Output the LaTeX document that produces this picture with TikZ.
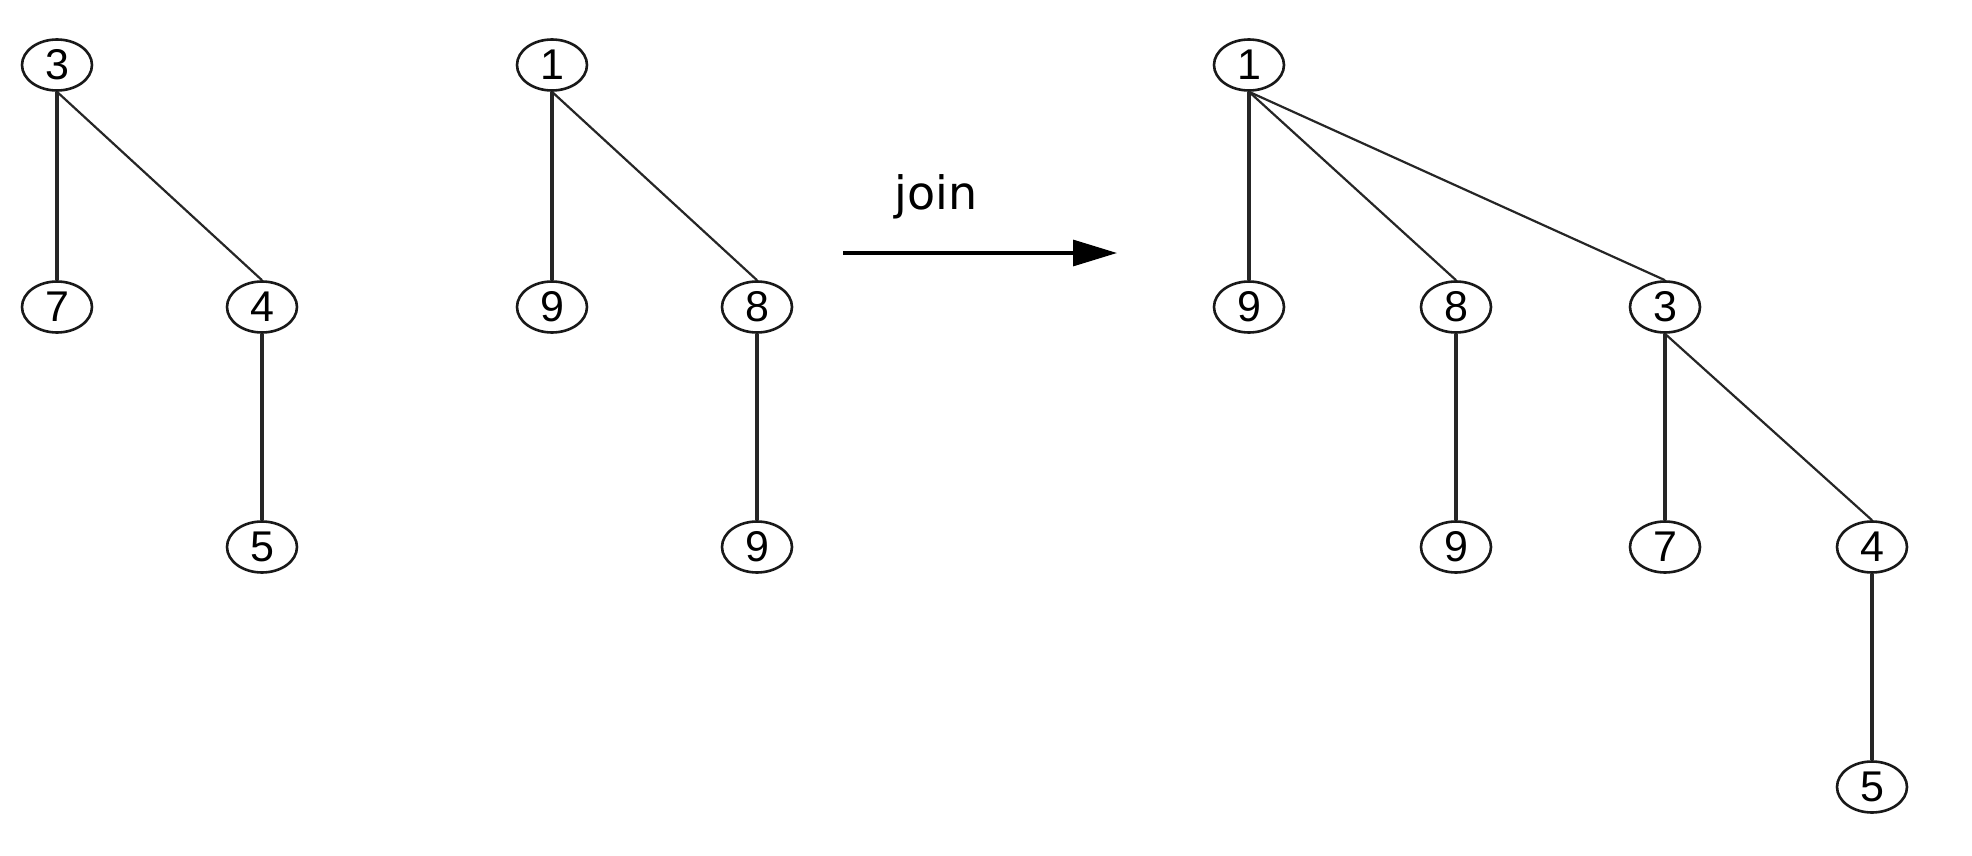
\documentclass[tikz,border=0pt]{standalone}
\usepackage{fontspec}
\setmainfont{Liberation Sans}
\newfontfamily\joinfont{DejaVu Sans}
\usetikzlibrary{shapes.geometric,arrows.meta}
\tikzset{
  tnode/.style={ellipse, draw=black!90, line width=1.3pt, inner sep=0pt,
    minimum width=35pt, minimum height=25.5pt,
    font=\fontsize{21.5pt}{21.5pt}\selectfont},
  vedge/.style={draw=black!85, line width=1.8pt},
  dedge/.style={draw=black!85, line width=1.1pt},
  joinarrow/.style={draw=black, line width=1.6pt, -{Triangle[length=22pt,width=13pt]}}
}
\begin{document}
\begin{tikzpicture}[x=0.5pt,y=-0.5pt]
\useasboundingbox (0,0) rectangle (1972,856);
% tree 1
\node[tnode] (a3) at (57,65) {3};
\node[tnode] (a7) at (57,307) {7};
\node[tnode] (a4) at (262,307) {4};
\node[tnode] (a5) at (262,547) {5};
\draw[vedge] (a3.south) -- (a7.north);
\draw[dedge] (a3.south) -- (a4.north);
\draw[vedge] (a4.south) -- (a5.north);
% tree 2
\node[tnode] (b1) at (552,65) {1};
\node[tnode] (b9) at (552,307) {9};
\node[tnode] (b8) at (757,307) {8};
\node[tnode] (b9b) at (757,547) {9};
\draw[vedge] (b1.south) -- (b9.north);
\draw[dedge] (b1.south) -- (b8.north);
\draw[vedge] (b8.south) -- (b9b.north);
% arrow
\coordinate (arrS) at (843,253);
\coordinate (arrE) at (1117,253);
\draw[joinarrow] (arrS) -- (arrE);
\node[anchor=base, inner sep=0pt, font=\joinfont\fontsize{23pt}{23pt}\selectfont] (joinlbl) at (936,210) {join};
% tree 3
\node[tnode] (c1) at (1249,65) {1};
\node[tnode] (c9) at (1249,307) {9};
\node[tnode] (c8) at (1456,307) {8};
\node[tnode] (c3) at (1665,307) {3};
\node[tnode] (c9b) at (1456,547) {9};
\node[tnode] (c7) at (1665,547) {7};
\node[tnode] (c4) at (1872,547) {4};
\node[tnode] (c5) at (1872,787) {5};
\draw[vedge] (c1.south) -- (c9.north);
\draw[dedge] (c1.south) -- (c8.north);
\draw[dedge] (c1.south) -- (c3.north);
\draw[vedge] (c8.south) -- (c9b.north);
\draw[vedge] (c3.south) -- (c7.north);
\draw[dedge] (c3.south) -- (c4.north);
\draw[vedge] (c4.south) -- (c5.north);
\end{tikzpicture}
\end{document}
